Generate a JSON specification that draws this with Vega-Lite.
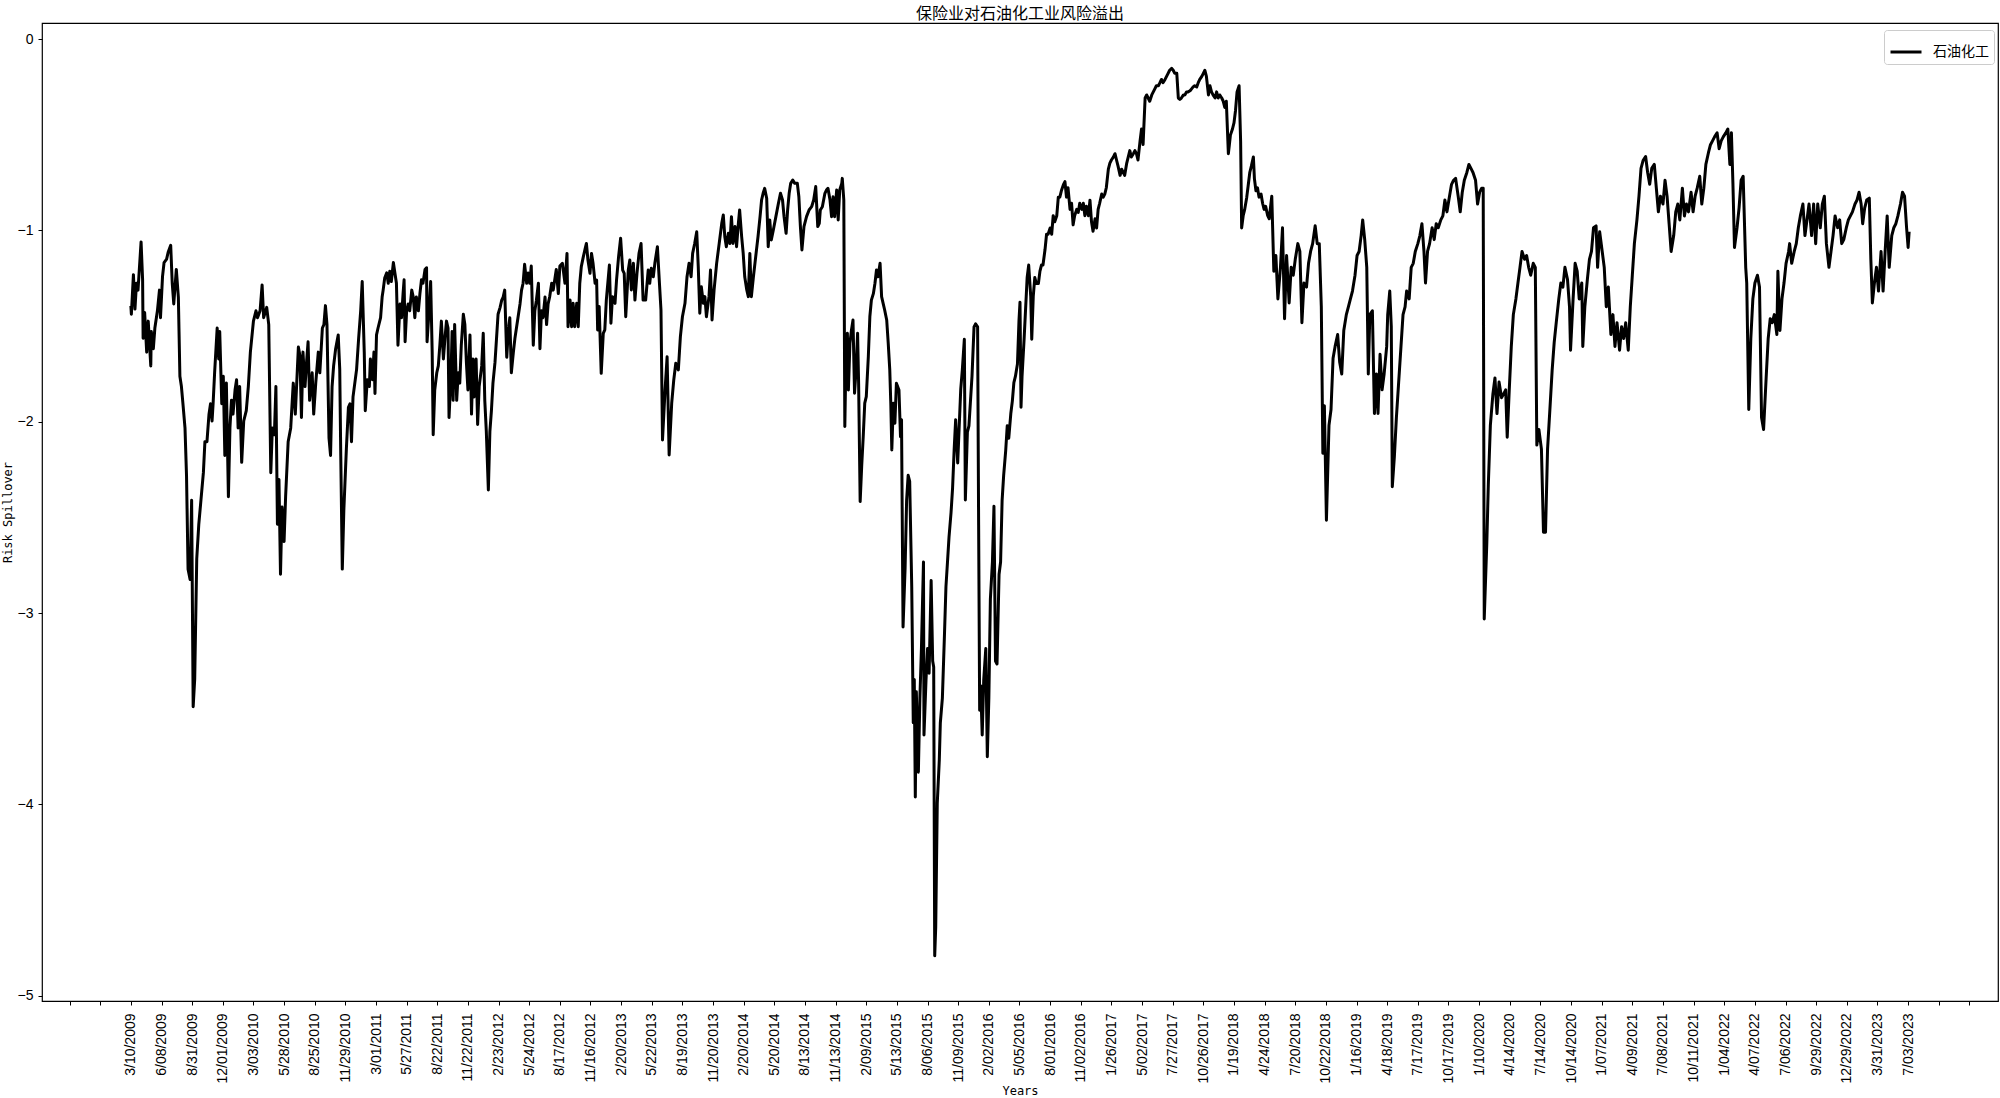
{
"$schema": "https://vega.github.io/schema/vega-lite/v6.json",
"width": 1956, "height": 978,
"autosize": {"type": "none"},
"padding": {"left": 42, "top": 23, "right": 2, "bottom": 97},
"background": "white",
"title": {"text": "保险业对石油化工业风险溢出", "font": "Noto Sans CJK SC", "fontSize": 16, "fontWeight": "normal", "color": "black", "offset": 1, "anchor": "middle"},
"config": {"view": {"stroke": "black", "strokeWidth": 1.2}},
"data": {"values": [
{"i":0,"v":-1.394},{"i":1,"v":-1.438},{"i":5,"v":-1.231},{"i":8,"v":-1.411},{"i":11,"v":-1.276},{"i":14,"v":-1.312},{"i":20,"v":-1.060},{"i":23,"v":-1.258},{"i":24,"v":-1.564},{"i":27,"v":-1.429},{"i":31,"v":-1.636},{"i":34,"v":-1.474},{"i":39,"v":-1.708},{"i":40,"v":-1.528},{"i":44,"v":-1.618},{"i":47,"v":-1.510},{"i":52,"v":-1.420},{"i":56,"v":-1.312},{"i":58,"v":-1.456},{"i":62,"v":-1.240},{"i":65,"v":-1.168},{"i":70,"v":-1.150},{"i":73,"v":-1.114},{"i":78,"v":-1.078},{"i":81,"v":-1.276},{"i":84,"v":-1.384},{"i":89,"v":-1.204},{"i":93,"v":-1.348},{"i":96,"v":-1.762},{"i":99,"v":-1.816},{"i":102,"v":-1.906},{"i":106,"v":-2.032},{"i":109,"v":-2.284},{"i":112,"v":-2.770},{"i":116,"v":-2.824},{"i":119,"v":-2.410},{"i":122,"v":-3.489},{"i":125,"v":-3.345},{"i":129,"v":-2.716},{"i":133,"v":-2.536},{"i":136,"v":-2.446},{"i":142,"v":-2.266},{"i":145,"v":-2.104},{"i":149,"v":-2.104},{"i":153,"v":-1.960},{"i":156,"v":-1.906},{"i":159,"v":-1.996},{"i":161,"v":-1.906},{"i":164,"v":-1.744},{"i":169,"v":-1.510},{"i":172,"v":-1.672},{"i":174,"v":-1.528},{"i":178,"v":-1.906},{"i":181,"v":-1.762},{"i":184,"v":-2.176},{"i":187,"v":-1.798},{"i":191,"v":-2.392},{"i":194,"v":-2.032},{"i":197,"v":-1.888},{"i":200,"v":-1.960},{"i":204,"v":-1.834},{"i":207,"v":-1.780},{"i":210,"v":-2.032},{"i":213,"v":-1.816},{"i":217,"v":-2.212},{"i":221,"v":-1.996},{"i":226,"v":-1.942},{"i":230,"v":-1.816},{"i":234,"v":-1.636},{"i":240,"v":-1.474},{"i":245,"v":-1.420},{"i":248,"v":-1.456},{"i":253,"v":-1.420},{"i":257,"v":-1.285},{"i":260,"v":-1.456},{"i":266,"v":-1.402},{"i":270,"v":-1.492},{"i":274,"v":-2.266},{"i":277,"v":-2.032},{"i":281,"v":-2.068},{"i":284,"v":-1.816},{"i":287,"v":-2.536},{"i":290,"v":-2.302},{"i":293,"v":-2.797},{"i":296,"v":-2.446},{"i":300,"v":-2.626},{"i":303,"v":-2.392},{"i":308,"v":-2.104},{"i":313,"v":-2.032},{"i":318,"v":-1.798},{"i":322,"v":-1.960},{"i":328,"v":-1.609},{"i":331,"v":-1.654},{"i":334,"v":-1.978},{"i":337,"v":-1.636},{"i":341,"v":-1.816},{"i":344,"v":-1.690},{"i":347,"v":-1.582},{"i":350,"v":-1.888},{"i":355,"v":-1.744},{"i":358,"v":-1.960},{"i":362,"v":-1.798},{"i":367,"v":-1.636},{"i":370,"v":-1.744},{"i":375,"v":-1.510},{"i":378,"v":-1.492},{"i":381,"v":-1.393},{"i":384,"v":-1.492},{"i":388,"v":-2.086},{"i":391,"v":-2.176},{"i":394,"v":-1.816},{"i":397,"v":-1.708},{"i":401,"v":-1.618},{"i":406,"v":-1.546},{"i":409,"v":-1.726},{"i":411,"v":-2.176},{"i":414,"v":-2.770},{"i":417,"v":-2.464},{"i":422,"v":-2.140},{"i":426,"v":-1.924},{"i":429,"v":-1.906},{"i":432,"v":-2.104},{"i":435,"v":-1.870},{"i":442,"v":-1.726},{"i":446,"v":-1.564},{"i":450,"v":-1.420},{"i":453,"v":-1.267},{"i":457,"v":-1.636},{"i":459,"v":-1.942},{"i":463,"v":-1.780},{"i":467,"v":-1.816},{"i":469,"v":-1.672},{"i":473,"v":-1.780},{"i":476,"v":-1.636},{"i":478,"v":-1.852},{"i":481,"v":-1.546},{"i":484,"v":-1.510},{"i":489,"v":-1.456},{"i":492,"v":-1.348},{"i":494,"v":-1.312},{"i":497,"v":-1.249},{"i":501,"v":-1.222},{"i":504,"v":-1.276},{"i":507,"v":-1.213},{"i":510,"v":-1.267},{"i":514,"v":-1.168},{"i":517,"v":-1.222},{"i":520,"v":-1.276},{"i":523,"v":-1.600},{"i":527,"v":-1.384},{"i":530,"v":-1.456},{"i":533,"v":-1.330},{"i":535,"v":-1.258},{"i":537,"v":-1.582},{"i":540,"v":-1.420},{"i":543,"v":-1.384},{"i":546,"v":-1.420},{"i":550,"v":-1.312},{"i":553,"v":-1.348},{"i":556,"v":-1.456},{"i":559,"v":-1.348},{"i":563,"v":-1.420},{"i":566,"v":-1.330},{"i":569,"v":-1.258},{"i":572,"v":-1.276},{"i":576,"v":-1.204},{"i":579,"v":-1.195},{"i":580,"v":-1.582},{"i":583,"v":-1.456},{"i":587,"v":-1.267},{"i":590,"v":-1.636},{"i":592,"v":-2.068},{"i":595,"v":-1.834},{"i":599,"v":-1.744},{"i":602,"v":-1.708},{"i":605,"v":-1.600},{"i":608,"v":-1.474},{"i":612,"v":-1.672},{"i":615,"v":-1.564},{"i":618,"v":-1.474},{"i":621,"v":-1.510},{"i":623,"v":-1.978},{"i":627,"v":-1.744},{"i":629,"v":-1.528},{"i":631,"v":-1.888},{"i":634,"v":-1.492},{"i":638,"v":-1.888},{"i":641,"v":-1.744},{"i":644,"v":-1.798},{"i":647,"v":-1.600},{"i":651,"v":-1.438},{"i":654,"v":-1.492},{"i":657,"v":-1.690},{"i":660,"v":-1.834},{"i":664,"v":-1.546},{"i":667,"v":-1.960},{"i":670,"v":-1.672},{"i":672,"v":-1.870},{"i":676,"v":-1.672},{"i":679,"v":-2.014},{"i":682,"v":-1.816},{"i":687,"v":-1.708},{"i":690,"v":-1.537},{"i":693,"v":-1.888},{"i":696,"v":-2.050},{"i":700,"v":-2.356},{"i":703,"v":-2.050},{"i":706,"v":-1.942},{"i":709,"v":-1.798},{"i":713,"v":-1.690},{"i":716,"v":-1.564},{"i":719,"v":-1.438},{"i":723,"v":-1.402},{"i":726,"v":-1.366},{"i":729,"v":-1.348},{"i":732,"v":-1.312},{"i":736,"v":-1.663},{"i":739,"v":-1.528},{"i":742,"v":-1.456},{"i":745,"v":-1.744},{"i":749,"v":-1.636},{"i":752,"v":-1.564},{"i":755,"v":-1.510},{"i":758,"v":-1.456},{"i":762,"v":-1.384},{"i":765,"v":-1.312},{"i":768,"v":-1.276},{"i":771,"v":-1.177},{"i":775,"v":-1.276},{"i":778,"v":-1.222},{"i":781,"v":-1.276},{"i":784,"v":-1.186},{"i":788,"v":-1.600},{"i":791,"v":-1.420},{"i":794,"v":-1.366},{"i":798,"v":-1.276},{"i":801,"v":-1.618},{"i":804,"v":-1.420},{"i":807,"v":-1.456},{"i":811,"v":-1.348},{"i":814,"v":-1.492},{"i":817,"v":-1.384},{"i":820,"v":-1.348},{"i":824,"v":-1.276},{"i":827,"v":-1.312},{"i":830,"v":-1.258},{"i":833,"v":-1.204},{"i":837,"v":-1.330},{"i":840,"v":-1.186},
{"i":845,"v":-1.172},{"i":850,"v":-1.276},{"i":854,"v":-1.120},{"i":856,"v":-1.503},{"i":860,"v":-1.364},{"i":863,"v":-1.503},{"i":866,"v":-1.381},{"i":869,"v":-1.503},{"i":873,"v":-1.381},{"i":876,"v":-1.503},{"i":879,"v":-1.276},{"i":882,"v":-1.189},{"i":886,"v":-1.137},{"i":889,"v":-1.102},{"i":892,"v":-1.068},{"i":895,"v":-1.155},{"i":899,"v":-1.224},{"i":902,"v":-1.120},{"i":905,"v":-1.172},{"i":909,"v":-1.276},{"i":912,"v":-1.259},{"i":914,"v":-1.520},{"i":917,"v":-1.398},{"i":921,"v":-1.747},{"i":925,"v":-1.538},{"i":928,"v":-1.520},{"i":931,"v":-1.364},{"i":937,"v":-1.181},{"i":940,"v":-1.485},{"i":943,"v":-1.346},{"i":948,"v":-1.381},{"i":951,"v":-1.259},{"i":955,"v":-1.137},{"i":959,"v":-1.041},{"i":963,"v":-1.207},{"i":966,"v":-1.224},{"i":969,"v":-1.451},{"i":974,"v":-1.207},{"i":977,"v":-1.155},{"i":980,"v":-1.311},{"i":984,"v":-1.172},{"i":987,"v":-1.364},{"i":991,"v":-1.224},{"i":995,"v":-1.120},{"i":999,"v":-1.068},{"i":1003,"v":-1.364},{"i":1008,"v":-1.364},{"i":1013,"v":-1.207},{"i":1016,"v":-1.276},{"i":1019,"v":-1.198},{"i":1023,"v":-1.242},{"i":1026,"v":-1.172},{"i":1031,"v":-1.085},{"i":1035,"v":-1.276},{"i":1038,"v":-1.416},{"i":1041,"v":-2.095},{"i":1046,"v":-1.834},{"i":1050,"v":-1.660},{"i":1054,"v":-2.173},{"i":1059,"v":-1.903},{"i":1063,"v":-1.782},{"i":1067,"v":-1.694},{"i":1072,"v":-1.729},{"i":1076,"v":-1.555},{"i":1080,"v":-1.451},{"i":1085,"v":-1.381},{"i":1089,"v":-1.242},{"i":1093,"v":-1.172},{"i":1097,"v":-1.242},{"i":1100,"v":-1.120},{"i":1104,"v":-1.068},{"i":1108,"v":-1.007},{"i":1111,"v":-1.189},{"i":1114,"v":-1.433},{"i":1117,"v":-1.294},{"i":1121,"v":-1.381},{"i":1124,"v":-1.346},{"i":1127,"v":-1.451},{"i":1132,"v":-1.346},{"i":1135,"v":-1.207},{"i":1138,"v":-1.468},{"i":1142,"v":-1.311},{"i":1147,"v":-1.172},{"i":1152,"v":-1.068},{"i":1157,"v":-0.963},{"i":1160,"v":-0.919},{"i":1163,"v":-1.033},{"i":1166,"v":-1.085},{"i":1170,"v":-1.015},{"i":1173,"v":-1.068},{"i":1176,"v":-0.928},{"i":1179,"v":-1.068},{"i":1183,"v":-0.980},{"i":1186,"v":-1.085},{"i":1189,"v":-0.980},{"i":1192,"v":-0.893},{"i":1196,"v":-1.033},{"i":1199,"v":-1.120},{"i":1202,"v":-1.242},{"i":1206,"v":-1.311},{"i":1209,"v":-1.346},{"i":1212,"v":-1.120},{"i":1215,"v":-1.346},{"i":1219,"v":-1.242},{"i":1222,"v":-1.172},{"i":1225,"v":-1.102},{"i":1228,"v":-1.033},{"i":1232,"v":-0.928},{"i":1235,"v":-0.841},{"i":1238,"v":-0.806},{"i":1241,"v":-0.780},{"i":1245,"v":-0.832},{"i":1248,"v":-1.085},{"i":1251,"v":-0.945},{"i":1254,"v":-1.050},{"i":1258,"v":-0.998},{"i":1263,"v":-0.928},{"i":1268,"v":-0.858},{"i":1272,"v":-0.806},{"i":1276,"v":-0.841},{"i":1279,"v":-0.928},{"i":1283,"v":-1.015},{"i":1286,"v":-0.893},{"i":1289,"v":-0.806},{"i":1292,"v":-0.754},{"i":1296,"v":-0.737},{"i":1300,"v":-0.754},{"i":1305,"v":-0.754},{"i":1308,"v":-0.824},{"i":1311,"v":-0.980},{"i":1314,"v":-1.102},{"i":1318,"v":-0.980},{"i":1323,"v":-0.928},{"i":1328,"v":-0.893},{"i":1333,"v":-0.876},{"i":1337,"v":-0.841},{"i":1341,"v":-0.771},{"i":1345,"v":-0.980},{"i":1348,"v":-0.963},{"i":1350,"v":-0.893},{"i":1354,"v":-0.876},{"i":1359,"v":-0.806},{"i":1362,"v":-0.789},{"i":1365,"v":-0.780},{"i":1369,"v":-0.841},{"i":1372,"v":-0.928},{"i":1375,"v":-0.824},{"i":1378,"v":-0.928},{"i":1382,"v":-0.789},{"i":1385,"v":-0.945},{"i":1388,"v":-0.789},{"i":1392,"v":-0.754},{"i":1393,"v":-0.728},{"i":1396,"v":-0.841},{"i":1398,"v":-2.025},{"i":1400,"v":-1.694},{"i":1403,"v":-1.538},{"i":1405,"v":-1.834},{"i":1408,"v":-1.590},{"i":1411,"v":-1.520},{"i":1414,"v":-1.468},{"i":1417,"v":-1.851},{"i":1420,"v":-1.729},{"i":1423,"v":-1.538},{"i":1425,"v":-1.799},{"i":1428,"v":-2.417},{"i":1431,"v":-2.234},{"i":1434,"v":-2.078},{"i":1437,"v":-1.903},{"i":1440,"v":-1.869},{"i":1444,"v":-1.660},{"i":1447,"v":-1.451},{"i":1450,"v":-1.364},{"i":1454,"v":-1.329},{"i":1457,"v":-1.276},{"i":1460,"v":-1.207},{"i":1463,"v":-1.242},{"i":1467,"v":-1.172},{"i":1470,"v":-1.346},{"i":1473,"v":-1.381},{"i":1476,"v":-1.416},{"i":1480,"v":-1.468},{"i":1483,"v":-1.590},{"i":1486,"v":-1.729},{"i":1488,"v":-1.903},{"i":1490,"v":-2.147},{"i":1493,"v":-1.903},{"i":1496,"v":-2.008},{"i":1499,"v":-1.799},{"i":1504,"v":-1.834},{"i":1507,"v":-2.078},
{"i":1509,"v":-1.989},{"i":1512,"v":-3.072},{"i":1516,"v":-2.765},{"i":1519,"v":-2.409},{"i":1522,"v":-2.280},{"i":1525,"v":-2.312},{"i":1529,"v":-2.862},{"i":1532,"v":-3.573},{"i":1534,"v":-3.347},{"i":1536,"v":-3.961},{"i":1538,"v":-3.411},{"i":1542,"v":-3.831},{"i":1545,"v":-3.444},{"i":1548,"v":-3.185},{"i":1552,"v":-2.733},{"i":1553,"v":-3.637},{"i":1557,"v":-3.347},{"i":1560,"v":-3.185},{"i":1563,"v":-3.314},{"i":1567,"v":-2.830},{"i":1570,"v":-3.250},{"i":1572,"v":-3.282},{"i":1574,"v":-4.791},{"i":1576,"v":-4.639},{"i":1579,"v":-3.993},{"i":1583,"v":-3.767},{"i":1585,"v":-3.573},{"i":1589,"v":-3.444},{"i":1593,"v":-3.120},{"i":1596,"v":-2.862},{"i":1599,"v":-2.733},{"i":1602,"v":-2.603},{"i":1606,"v":-2.474},{"i":1609,"v":-2.345},{"i":1612,"v":-2.151},{"i":1615,"v":-1.989},{"i":1619,"v":-2.215},{"i":1622,"v":-2.021},{"i":1625,"v":-1.828},{"i":1628,"v":-1.731},{"i":1632,"v":-1.569},{"i":1634,"v":-2.409},{"i":1638,"v":-2.054},{"i":1641,"v":-2.021},{"i":1644,"v":-1.892},{"i":1647,"v":-1.763},{"i":1651,"v":-1.504},{"i":1654,"v":-1.488},{"i":1658,"v":-1.504},{"i":1660,"v":-2.539},{"i":1662,"v":-3.508},{"i":1664,"v":-3.379},{"i":1667,"v":-3.637},{"i":1670,"v":-3.347},{"i":1674,"v":-3.185},{"i":1677,"v":-3.751},{"i":1680,"v":-3.444},{"i":1683,"v":-2.926},{"i":1687,"v":-2.733},{"i":1690,"v":-2.442},{"i":1693,"v":-3.250},{"i":1696,"v":-3.266},{"i":1700,"v":-2.797},{"i":1703,"v":-2.733},{"i":1706,"v":-2.409},{"i":1709,"v":-2.280},{"i":1713,"v":-2.151},{"i":1716,"v":-2.021},{"i":1719,"v":-2.086},{"i":1723,"v":-1.957},{"i":1726,"v":-1.892},{"i":1729,"v":-1.795},{"i":1732,"v":-1.763},{"i":1736,"v":-1.698},{"i":1739,"v":-1.472},{"i":1741,"v":-1.375},{"i":1743,"v":-1.924},{"i":1745,"v":-1.763},{"i":1749,"v":-1.569},{"i":1752,"v":-1.407},{"i":1755,"v":-1.246},{"i":1758,"v":-1.181},{"i":1762,"v":-1.343},{"i":1764,"v":-1.569},{"i":1767,"v":-1.343},{"i":1770,"v":-1.246},{"i":1773,"v":-1.278},{"i":1777,"v":-1.278},{"i":1780,"v":-1.214},{"i":1783,"v":-1.181},{"i":1786,"v":-1.181},{"i":1790,"v":-1.100},{"i":1793,"v":-1.020},{"i":1796,"v":-1.020},{"i":1800,"v":-0.987},{"i":1803,"v":-1.020},{"i":1806,"v":-0.923},{"i":1809,"v":-0.955},{"i":1813,"v":-0.923},{"i":1816,"v":-0.826},{"i":1819,"v":-0.826},{"i":1822,"v":-0.793},{"i":1826,"v":-0.761},{"i":1829,"v":-0.745},{"i":1832,"v":-0.826},{"i":1835,"v":-0.777},{"i":1839,"v":-0.890},{"i":1842,"v":-0.858},{"i":1845,"v":-0.971},{"i":1848,"v":-0.923},{"i":1852,"v":-0.890},{"i":1855,"v":-0.906},{"i":1858,"v":-0.858},{"i":1862,"v":-0.890},{"i":1865,"v":-0.858},{"i":1868,"v":-0.923},{"i":1871,"v":-0.874},{"i":1875,"v":-0.923},{"i":1878,"v":-0.842},{"i":1881,"v":-0.955},{"i":1884,"v":-1.004},{"i":1888,"v":-0.939},{"i":1891,"v":-0.987},{"i":1894,"v":-0.890},{"i":1897,"v":-0.858},{"i":1901,"v":-0.810},{"i":1904,"v":-0.826},{"i":1907,"v":-0.810},{"i":1910,"v":-0.777},{"i":1914,"v":-0.680},{"i":1917,"v":-0.648},{"i":1920,"v":-0.632},{"i":1924,"v":-0.616},{"i":1927,"v":-0.599},{"i":1930,"v":-0.632},{"i":1933,"v":-0.664},{"i":1937,"v":-0.712},{"i":1940,"v":-0.680},{"i":1943,"v":-0.696},{"i":1946,"v":-0.712},{"i":1950,"v":-0.648},{"i":1953,"v":-0.616},{"i":1956,"v":-0.583},{"i":1959,"v":-0.616},{"i":1963,"v":-0.599},{"i":1966,"v":-0.583},{"i":1969,"v":-0.599},{"i":1972,"v":-0.632},{"i":1976,"v":-0.535},{"i":1979,"v":-0.470},{"i":1982,"v":-0.551},{"i":1986,"v":-0.308},{"i":1989,"v":-0.292},{"i":1992,"v":-0.308},{"i":1995,"v":-0.325},{"i":1999,"v":-0.292},{"i":2002,"v":-0.276},{"i":2005,"v":-0.260},{"i":2008,"v":-0.244},{"i":2012,"v":-0.244},{"i":2015,"v":-0.228},{"i":2018,"v":-0.211},{"i":2021,"v":-0.228},{"i":2025,"v":-0.211},{"i":2028,"v":-0.195},{"i":2031,"v":-0.179},{"i":2034,"v":-0.163},{"i":2038,"v":-0.153},{"i":2041,"v":-0.163},{"i":2044,"v":-0.179},{"i":2048,"v":-0.179},{"i":2051,"v":-0.308},{"i":2054,"v":-0.315},{"i":2057,"v":-0.308},{"i":2061,"v":-0.292},{"i":2064,"v":-0.292},{"i":2067,"v":-0.276},{"i":2070,"v":-0.276},{"i":2074,"v":-0.270},{"i":2077,"v":-0.260},{"i":2080,"v":-0.250},{"i":2083,"v":-0.244},{"i":2087,"v":-0.250},{"i":2090,"v":-0.228},{"i":2093,"v":-0.211},{"i":2097,"v":-0.195},{"i":2100,"v":-0.179},{"i":2103,"v":-0.163},{"i":2106,"v":-0.195},{"i":2110,"v":-0.292},{"i":2113,"v":-0.244},{"i":2116,"v":-0.276},{"i":2119,"v":-0.292},{"i":2123,"v":-0.308},{"i":2126,"v":-0.276},{"i":2129,"v":-0.308},{"i":2132,"v":-0.292},{"i":2136,"v":-0.308},{"i":2139,"v":-0.325},{"i":2142,"v":-0.357},{"i":2145,"v":-0.325},{"i":2149,"v":-0.599},{"i":2151,"v":-0.551},{"i":2153,"v":-0.502},{"i":2157,"v":-0.470},{"i":2160,"v":-0.438},{"i":2163,"v":-0.373},{"i":2166,"v":-0.276},{"i":2170,"v":-0.244},{"i":2173,"v":-0.535},{"i":2175,"v":-0.987},{"i":2178,"v":-0.923},{"i":2181,"v":-0.890},{"i":2185,"v":-0.826},{"i":2188,"v":-0.761},{"i":2191,"v":-0.696},{"i":2194,"v":-0.664},{"i":2198,"v":-0.616},{"i":2200,"v":-0.729},{"i":2203,"v":-0.793},{"i":2206,"v":-0.777},{"i":2209,"v":-0.826},{"i":2213,"v":-0.810},{"i":2216,"v":-0.858},{"i":2219,"v":-0.890},{"i":2222,"v":-0.874},{"i":2226,"v":-0.923},{"i":2229,"v":-0.939},
{"i":2234,"v":-0.821},{"i":2238,"v":-1.213},{"i":2242,"v":-1.131},{"i":2246,"v":-1.358},{"i":2251,"v":-1.193},{"i":2255,"v":-0.986},{"i":2259,"v":-1.461},{"i":2263,"v":-1.131},{"i":2268,"v":-1.379},{"i":2272,"v":-1.193},{"i":2276,"v":-1.234},{"i":2280,"v":-1.151},{"i":2285,"v":-1.069},{"i":2289,"v":-1.110},{"i":2293,"v":-1.482},{"i":2297,"v":-1.275},{"i":2302,"v":-1.296},{"i":2306,"v":-1.172},{"i":2310,"v":-1.110},{"i":2314,"v":-1.069},{"i":2319,"v":-0.976},{"i":2323,"v":-1.069},{"i":2327,"v":-1.069},{"i":2331,"v":-1.399},{"i":2334,"v":-2.164},{"i":2337,"v":-1.916},{"i":2341,"v":-2.515},{"i":2346,"v":-2.019},{"i":2350,"v":-1.936},{"i":2354,"v":-1.668},{"i":2358,"v":-1.606},{"i":2363,"v":-1.544},{"i":2367,"v":-1.689},{"i":2371,"v":-1.750},{"i":2375,"v":-1.523},{"i":2380,"v":-1.440},{"i":2384,"v":-1.399},{"i":2388,"v":-1.358},{"i":2392,"v":-1.317},{"i":2397,"v":-1.234},{"i":2401,"v":-1.131},{"i":2405,"v":-1.110},{"i":2409,"v":-1.027},{"i":2412,"v":-0.945},{"i":2416,"v":-1.048},{"i":2420,"v":-1.193},{"i":2423,"v":-1.750},{"i":2426,"v":-1.440},{"i":2431,"v":-1.420},{"i":2435,"v":-1.957},{"i":2439,"v":-1.750},{"i":2442,"v":-1.957},{"i":2446,"v":-1.647},{"i":2450,"v":-1.833},{"i":2454,"v":-1.750},{"i":2459,"v":-1.606},{"i":2461,"v":-1.440},{"i":2465,"v":-1.317},{"i":2468,"v":-1.503},{"i":2470,"v":-2.339},{"i":2474,"v":-2.184},{"i":2478,"v":-1.978},{"i":2482,"v":-1.812},{"i":2487,"v":-1.606},{"i":2491,"v":-1.440},{"i":2495,"v":-1.399},{"i":2498,"v":-1.317},{"i":2503,"v":-1.358},{"i":2507,"v":-1.193},{"i":2511,"v":-1.172},{"i":2515,"v":-1.110},{"i":2520,"v":-1.069},{"i":2524,"v":-1.027},{"i":2528,"v":-0.965},{"i":2532,"v":-1.110},{"i":2535,"v":-1.275},{"i":2539,"v":-1.110},{"i":2543,"v":-1.069},{"i":2548,"v":-0.986},{"i":2552,"v":-1.048},{"i":2556,"v":-0.965},{"i":2560,"v":-0.986},{"i":2565,"v":-0.945},{"i":2569,"v":-0.924},{"i":2573,"v":-0.841},{"i":2577,"v":-0.903},{"i":2582,"v":-0.821},{"i":2586,"v":-0.759},{"i":2590,"v":-0.738},{"i":2594,"v":-0.728},{"i":2599,"v":-0.821},{"i":2603,"v":-0.903},{"i":2607,"v":-0.800},{"i":2611,"v":-0.738},{"i":2616,"v":-0.697},{"i":2620,"v":-0.655},{"i":2624,"v":-0.676},{"i":2628,"v":-0.697},{"i":2633,"v":-0.738},{"i":2637,"v":-0.862},{"i":2641,"v":-0.800},{"i":2645,"v":-0.779},{"i":2648,"v":-0.779},{"i":2650,"v":-3.031},{"i":2655,"v":-2.639},{"i":2658,"v":-2.329},{"i":2662,"v":-2.019},{"i":2667,"v":-1.854},{"i":2671,"v":-1.771},{"i":2675,"v":-1.957},{"i":2679,"v":-1.792},{"i":2684,"v":-1.874},{"i":2688,"v":-1.854},{"i":2692,"v":-1.833},{"i":2695,"v":-2.081},{"i":2699,"v":-1.833},{"i":2703,"v":-1.606},{"i":2707,"v":-1.440},{"i":2712,"v":-1.358},{"i":2716,"v":-1.275},{"i":2720,"v":-1.193},{"i":2724,"v":-1.110},{"i":2729,"v":-1.151},{"i":2733,"v":-1.131},{"i":2737,"v":-1.193},{"i":2741,"v":-1.234},{"i":2746,"v":-1.172},{"i":2750,"v":-1.193},{"i":2753,"v":-2.122},{"i":2757,"v":-2.040},{"i":2762,"v":-2.143},{"i":2766,"v":-2.577},{"i":2770,"v":-2.577},{"i":2774,"v":-2.143},{"i":2779,"v":-1.916},{"i":2783,"v":-1.730},{"i":2787,"v":-1.585},{"i":2791,"v":-1.482},{"i":2796,"v":-1.358},{"i":2800,"v":-1.275},{"i":2804,"v":-1.296},{"i":2808,"v":-1.193},{"i":2813,"v":-1.255},{"i":2817,"v":-1.399},{"i":2819,"v":-1.626},{"i":2824,"v":-1.358},{"i":2828,"v":-1.172},{"i":2832,"v":-1.213},{"i":2836,"v":-1.358},{"i":2841,"v":-1.275},{"i":2843,"v":-1.606},{"i":2847,"v":-1.399},{"i":2852,"v":-1.255},{"i":2856,"v":-1.151},{"i":2860,"v":-1.110},{"i":2864,"v":-0.986},{"i":2869,"v":-0.976},{"i":2872,"v":-1.193},{"i":2876,"v":-1.007},{"i":2881,"v":-1.110},{"i":2885,"v":-1.193},{"i":2889,"v":-1.399},{"i":2893,"v":-1.296},{"i":2898,"v":-1.544},{"i":2902,"v":-1.440},{"i":2906,"v":-1.606},{"i":2910,"v":-1.482},{"i":2915,"v":-1.626},{"i":2919,"v":-1.503},{"i":2923,"v":-1.565},{"i":2927,"v":-1.482},{"i":2932,"v":-1.626},{"i":2936,"v":-1.399},{"i":2940,"v":-1.234},{"i":2944,"v":-1.069},{"i":2949,"v":-0.945},{"i":2953,"v":-0.821},{"i":2957,"v":-0.676},{"i":2961,"v":-0.635},{"i":2966,"v":-0.614},{"i":2970,"v":-0.697},{"i":2974,"v":-0.759},{"i":2978,"v":-0.676},{"i":2983,"v":-0.655},{"i":2987,"v":-0.779},{"i":2991,"v":-0.903},{"i":2995,"v":-0.821},{"i":3000,"v":-0.862},{"i":3004,"v":-0.738},{"i":3008,"v":-0.821},{"i":3012,"v":-0.965},{"i":3016,"v":-1.110},{"i":3021,"v":-1.027},{"i":3025,"v":-0.903},{"i":3029,"v":-0.862},{"i":3033,"v":-0.945},{"i":3038,"v":-0.779},{"i":3042,"v":-0.924},{"i":3046,"v":-0.862},{"i":3050,"v":-0.903},{"i":3055,"v":-0.800},{"i":3059,"v":-0.903},{"i":3063,"v":-0.821},{"i":3067,"v":-0.779},{"i":3072,"v":-0.717},{"i":3076,"v":-0.862},{"i":3080,"v":-0.779},{"i":3084,"v":-0.655},{"i":3089,"v":-0.594},{"i":3093,"v":-0.552},{"i":3097,"v":-0.532},{"i":3101,"v":-0.511},{"i":3106,"v":-0.490},{"i":3110,"v":-0.573},{"i":3114,"v":-0.532},{"i":3118,"v":-0.511},{"i":3123,"v":-0.490},{"i":3127,"v":-0.470},{"i":3131,"v":-0.655},{"i":3134,"v":-0.490},{"i":3137,"v":-0.759},{"i":3140,"v":-1.089},{"i":3145,"v":-0.986},{"i":3149,"v":-0.882},{"i":3153,"v":-0.738},{"i":3157,"v":-0.717},{"i":3162,"v":-1.193},{"i":3164,"v":-1.275},{"i":3168,"v":-1.936},{"i":3172,"v":-1.565},{"i":3176,"v":-1.358},{"i":3180,"v":-1.275},{"i":3185,"v":-1.234},{"i":3189,"v":-1.296},{"i":3193,"v":-1.978},{"i":3197,"v":-2.040},{"i":3202,"v":-1.771},{"i":3206,"v":-1.565},{"i":3210,"v":-1.461},{"i":3214,"v":-1.482},{"i":3218,"v":-1.440},{"i":3223,"v":-1.544},{"i":3225,"v":-1.213},{"i":3229,"v":-1.523},{"i":3233,"v":-1.358},{"i":3237,"v":-1.275},{"i":3241,"v":-1.172},{"i":3246,"v":-1.110},{"i":3248,"v":-1.069},{"i":3252,"v":-1.172},{"i":3257,"v":-1.110},{"i":3261,"v":-1.069},{"i":3265,"v":-0.986},{"i":3269,"v":-0.924},{"i":3274,"v":-0.862},{"i":3278,"v":-1.027},{"i":3282,"v":-0.945},{"i":3286,"v":-0.862},{"i":3291,"v":-1.027},{"i":3295,"v":-0.862},{"i":3299,"v":-1.069},{"i":3303,"v":-0.862},{"i":3308,"v":-0.986},{"i":3312,"v":-0.862},{"i":3316,"v":-0.821},{"i":3320,"v":-1.069},{"i":3325,"v":-1.193},{"i":3329,"v":-1.110},{"i":3333,"v":-1.027},{"i":3337,"v":-0.924},{"i":3342,"v":-0.986},{"i":3346,"v":-0.945},{"i":3350,"v":-1.069},{"i":3354,"v":-1.048},{"i":3359,"v":-0.986},{"i":3363,"v":-0.945},{"i":3367,"v":-0.924},{"i":3371,"v":-0.903},{"i":3376,"v":-0.862},{"i":3380,"v":-0.841},{"i":3384,"v":-0.800},{"i":3388,"v":-0.862},{"i":3391,"v":-0.965},{"i":3395,"v":-0.882},{"i":3399,"v":-0.841},{"i":3404,"v":-0.831},{"i":3407,"v":-1.151},{"i":3410,"v":-1.379},{"i":3414,"v":-1.275},{"i":3418,"v":-1.193},{"i":3422,"v":-1.317},{"i":3427,"v":-1.110},{"i":3431,"v":-1.317},{"i":3435,"v":-1.110},{"i":3439,"v":-0.924},{"i":3443,"v":-1.193},{"i":3448,"v":-1.027},{"i":3452,"v":-0.986},{"i":3456,"v":-0.965},{"i":3460,"v":-0.924},{"i":3465,"v":-0.862},{"i":3469,"v":-0.800},{"i":3473,"v":-0.821},{"i":3477,"v":-0.986},{"i":3480,"v":-1.089},{"i":3482,"v":-1.007}
]},
"mark": {"type": "line", "strokeWidth": 3, "strokeJoin": "round"},
"encoding": {
  "x": {"field": "i", "type": "quantitative",
    "scale": {"domain": [-174, 3656], "nice": false, "zero": false},
    "axis": {"title": "Years", "titleFont": "DejaVu Sans Mono", "titleFontSize": 12, "titleFontWeight": "normal", "titleColor": "black", "titleY": 93, "titleBaseline": "alphabetic",
      "values": [-120,-60,0,60,120,180,240,300,360,420,480,540,600,660,720,780,840,900,960,1020,1080,1140,1200,1260,1320,1380,1440,1500,1560,1620,1680,1740,1800,1860,1920,1980,2040,2100,2160,2220,2280,2340,2400,2460,2520,2580,2640,2700,2760,2820,2880,2940,3000,3060,3120,3180,3240,3300,3360,3420,3480,3540,3600],
      "labelExpr": "datum.value >= 0 && datum.value <= 3480 ? ['3/10/2009','6/08/2009','8/31/2009','12/01/2009','3/03/2010','5/28/2010','8/25/2010','11/29/2010','3/01/2011','5/27/2011','8/22/2011','11/22/2011','2/23/2012','5/24/2012','8/17/2012','11/16/2012','2/20/2013','5/22/2013','8/19/2013','11/20/2013','2/20/2014','5/20/2014','8/13/2014','11/13/2014','2/09/2015','5/13/2015','8/06/2015','11/09/2015','2/02/2016','5/05/2016','8/01/2016','11/02/2016','1/26/2017','5/02/2017','7/27/2017','10/26/2017','1/19/2018','4/24/2018','7/20/2018','10/22/2018','1/16/2019','4/18/2019','7/17/2019','10/17/2019','1/10/2020','4/14/2020','7/14/2020','10/14/2020','1/07/2021','4/09/2021','7/08/2021','10/11/2021','1/04/2022','4/07/2022','7/06/2022','9/29/2022','12/29/2022','3/31/2023','7/03/2023'][round(datum.value / 60)] : ''",
      "labelAngle": 270, "labelAlign": "right", "labelBaseline": "middle",
      "labelFont": "Liberation Sans", "labelFontSize": 14, "labelColor": "black", "labelPadding": 8,
      "labelOverlap": false, "labelBound": false, "labelFlush": false,
      "tickSize": 4, "tickColor": "black", "tickWidth": 1, "domain": false, "grid": false}},
  "y": {"field": "v", "type": "quantitative",
    "scale": {"domain": [-5.027, 0.084], "nice": false, "zero": false},
    "axis": {"title": "Risk Spillover", "titleFont": "DejaVu Sans Mono", "titleFontSize": 12, "titleFontWeight": "normal", "titleColor": "black", "titleX": -35, "titleY": 489, "titleAngle": -90, "titleAlign": "center", "titleBaseline": "middle",
      "values": [0, -1, -2, -3, -4, -5], "format": "d",
      "labelFont": "Liberation Sans", "labelFontSize": 14, "labelColor": "black", "labelPadding": 5,
      "tickSize": 4, "tickColor": "black", "tickWidth": 1, "domain": false, "grid": false}},
  "color": {"datum": "石油化工", "type": "nominal", "scale": {"range": ["black"]},
    "legend": {"title": null, "orient": "none", "legendX": 1842, "legendY": 7, "symbolType": "stroke", "symbolSize": 961, "symbolStrokeWidth": 3, "symbolStrokeColor": "black",
      "labelFont": "Noto Sans CJK SC", "labelFontSize": 14, "labelColor": "black", "labelOffset": 10, "padding": 5,
      "strokeColor": "#cccccc", "fillColor": "white", "cornerRadius": 3}}
}
}
